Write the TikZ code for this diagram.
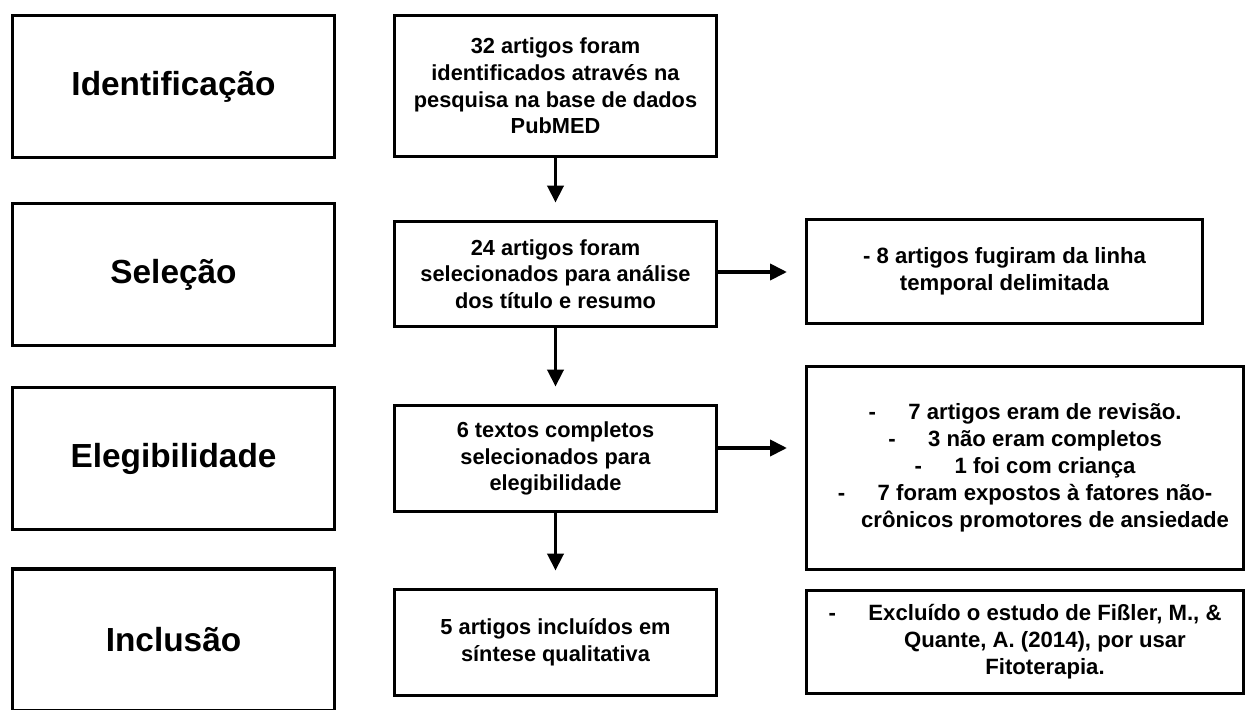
\documentclass[tikz,border=0pt]{standalone}
\usepackage{fontspec}
\setmainfont{Liberation Sans}
\usetikzlibrary{arrows.meta}
\newcommand{\hd}{\hspace*{0.8cm}\llap{-\hspace{0.65cm}}}
\newcommand{\hi}{\hspace*{0.8cm}}
\begin{document}
\begin{tikzpicture}[
  x=0.02cm, y=-0.02cm,
  every node/.style={draw, line width=2.2pt, align=center, inner sep=0pt},
  stage/.style={minimum width=6.44cm, minimum height=2.84cm, font=\fontsize{19}{23}\selectfont\bfseries},
  stepbox/.style={minimum width=6.44cm, minimum height=2.12cm, font=\fontsize{12.4}{15.2}\selectfont\bfseries},
  exclbox/.style={minimum width=8.74cm, font=\fontsize{12.6}{15.4}\selectfont\bfseries},
  every path/.style={-{Triangle[length=0.34cm, width=0.32cm]}, line width=2.2pt}
]
\useasboundingbox (0,0) rectangle (1248,710);
\node[stage] (ident) at (173.5,86.5) {Identificação};
\node[stage] (selec) at (173.5,274.5) {Seleção};
\node[stage] (elegib) at (173.5,458.5) {Elegibilidade};
\node[stage] (inclus) at (173.5,640) {Inclusão};
\node[stepbox, minimum height=2.82cm] (found) at (555.5,86) {32 artigos foram\\identificados através na\\pesquisa na base de dados\\PubMED};
\node[stepbox, minimum height=2.1cm] (screened) at (555.5,274) {24 artigos foram\\selecionados para análise\\dos título e resumo};
\node[stepbox] (eligible) at (555.5,458.5) {6 textos completos\\selecionados para\\elegibilidade};
\node[stepbox] (included) at (555.5,642.5) {5 artigos incluídos em\\síntese qualitativa};
\node[exclbox, minimum width=7.92cm, minimum height=2.08cm] (outdated) at (1004.5,271.5) {- 8 artigos fugiram da linha\\temporal delimitada};
\node[exclbox, minimum height=4.06cm] (excluded) at (1025,468) {\hd 7 artigos eram de revisão.\\\hd 3 não eram completos\\\hd 1 foi com criança\\\hd 7 foram expostos à fatores não-\\\hi crônicos promotores de ansiedade};
\node[exclbox, minimum height=2.06cm] (fissler) at (1025,642) {\hd Excluído o estudo de Fißler, M., \&\\\hi Quante, A. (2014), por usar\\\hi Fitoterapia.};
\coordinate (toout) at (787,272);
\coordinate (toexcl) at (787,448);
\draw[shorten >=0.34cm] (found) -- (screened);
\draw (screened.east |- toout) -- (toout);
\draw[shorten >=0.34cm] (screened) -- (eligible);
\draw (eligible.east |- toexcl) -- (toexcl);
\draw[shorten >=0.34cm] (eligible) -- (included);
\end{tikzpicture}
\end{document}
